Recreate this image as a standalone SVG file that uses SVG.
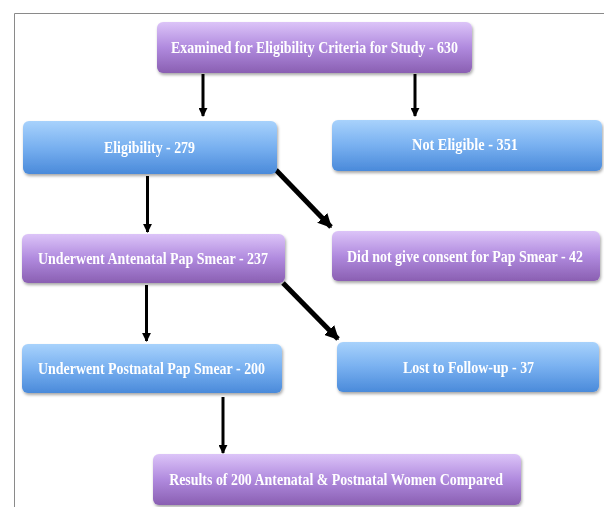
<svg xmlns="http://www.w3.org/2000/svg" width="604" height="507" viewBox="0 0 604 507">
<style>
.t{font-family:"Liberation Serif","Times New Roman",serif;font-weight:bold;font-size:16.5px;fill:#ffffff;text-anchor:middle}
.p{fill:url(#gp)}
.b{fill:url(#gb)}
.box{filter:url(#sh)}
.c{stroke:#000;fill:none}
</style>
<defs>
<linearGradient id="gp" x1="0" y1="0" x2="0" y2="1">
<stop offset="0" stop-color="#dcc4f8"/>
<stop offset="0.5" stop-color="#b08ade"/>
<stop offset="1" stop-color="#8a5fb2"/>
</linearGradient>
<linearGradient id="gb" x1="0" y1="0" x2="0" y2="1">
<stop offset="0" stop-color="#a8d2fc"/>
<stop offset="0.5" stop-color="#78b0f0"/>
<stop offset="1" stop-color="#4a8ada"/>
</linearGradient>
<filter id="sh" x="-5%" y="-10%" width="110%" height="130%">
<feDropShadow dx="1" dy="2" stdDeviation="1.5" flood-color="#000" flood-opacity="0.35"/>
</filter>
<marker id="ah" viewBox="0 0 10 10" refX="9" refY="5" markerWidth="9" markerHeight="9" markerUnits="userSpaceOnUse" orient="auto">
<path d="M0,0 L10,5 L0,10 z" fill="#000"/>
</marker>
<marker id="ah2" viewBox="0 0 10 10" refX="9" refY="5" markerWidth="14" markerHeight="14" markerUnits="userSpaceOnUse" orient="auto">
<path d="M0,0 L10,5 L0,10 z" fill="#000"/>
</marker>
</defs>
<rect width="604" height="507" fill="#ffffff"/>
<path d="M14.5,507 L14.5,13.5 L604,13.5" fill="none" stroke="#8a8a8a" stroke-width="1"/>
<g id="connectors">
<line class="c" x1="203" y1="74" x2="203" y2="116" stroke-width="3" marker-end="url(#ah)"/>
<line class="c" x1="415" y1="74" x2="415" y2="116" stroke-width="3" marker-end="url(#ah)"/>
<line class="c" x1="147.5" y1="176" x2="147.5" y2="232" stroke-width="3" marker-end="url(#ah)"/>
<line class="c" x1="276" y1="170" x2="331" y2="227" stroke-width="5" marker-end="url(#ah2)"/>
<line class="c" x1="146.5" y1="285" x2="146.5" y2="341" stroke-width="3" marker-end="url(#ah)"/>
<line class="c" x1="283" y1="283" x2="338" y2="339" stroke-width="5" marker-end="url(#ah2)"/>
<line class="c" x1="223" y1="397" x2="223" y2="453" stroke-width="3" marker-end="url(#ah)"/>
</g>
<g id="n1" class="box"><rect class="p" x="157" y="22" width="315" height="51" rx="6"/><text class="t" transform="translate(314.5,52.5) scale(0.82,1)" textLength="350" lengthAdjust="spacingAndGlyphs">Examined for Eligibility Criteria for Study - 630</text></g>
<g id="n2" class="box"><rect class="b" x="23" y="121" width="254" height="53" rx="6"/><text class="t" transform="translate(149.5,152.5) scale(0.82,1)" textLength="111" lengthAdjust="spacingAndGlyphs">Eligibility - 279</text></g>
<g id="n3" class="box"><rect class="b" x="332" y="120" width="270" height="51" rx="6"/><text class="t" transform="translate(465,149.5) scale(0.82,1)" textLength="129" lengthAdjust="spacingAndGlyphs">Not Eligible -  351</text></g>
<g id="n4" class="box"><rect class="p" x="22" y="234" width="263" height="49" rx="6"/><text class="t" transform="translate(153,263.5) scale(0.82,1)" textLength="280.5" lengthAdjust="spacingAndGlyphs">Underwent Antenatal Pap Smear - 237</text></g>
<g id="n5" class="box"><rect class="p" x="332" y="231" width="268" height="50" rx="6"/><text class="t" transform="translate(465,261.5) scale(0.82,1)" textLength="288" lengthAdjust="spacingAndGlyphs">Did not give consent for Pap Smear - 42</text></g>
<g id="n6" class="box"><rect class="b" x="22" y="344" width="260" height="49" rx="6"/><text class="t" transform="translate(151.5,373.5) scale(0.82,1)" textLength="277" lengthAdjust="spacingAndGlyphs">Underwent Postnatal Pap Smear - 200</text></g>
<g id="n7" class="box"><rect class="b" x="337" y="342" width="262" height="50" rx="6"/><text class="t" transform="translate(468.5,372.5) scale(0.82,1)" textLength="160" lengthAdjust="spacingAndGlyphs">Lost to Follow-up - 37</text></g>
<g id="n8" class="box"><rect class="p" x="153" y="454" width="368" height="51" rx="6"/><text class="t" transform="translate(336,484.5) scale(0.82,1)" textLength="407" lengthAdjust="spacingAndGlyphs">Results of 200 Antenatal &amp; Postnatal Women Compared</text></g>
</svg>
